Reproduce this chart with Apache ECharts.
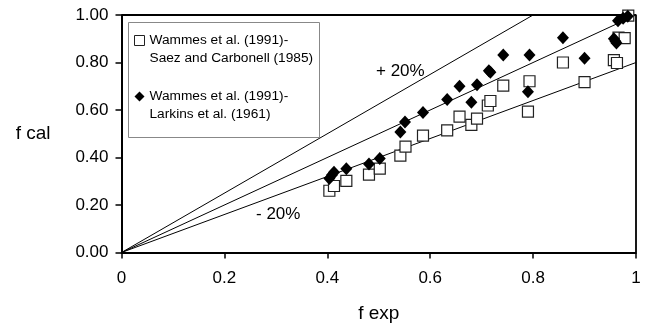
<!DOCTYPE html>
<html>
<head>
<meta charset="utf-8">
<script src="https://cdn.jsdelivr.net/npm/echarts@6/dist/echarts.min.js"></script>
<style>
  html, body { margin: 0; padding: 0; background: #fff; }
  #chart { width: 649px; height: 329px; }
</style>
</head>
<body>
<div id="chart"></div>
<script>
// Saez & Carbonell (1985) correlation vs. Wammes et al. (1991) data
const saezExp = [0.404, 0.413, 0.437, 0.481, 0.502, 0.542, 0.552, 0.586, 0.633, 0.657, 0.680, 0.691, 0.712, 0.717, 0.742, 0.790, 0.793, 0.858, 0.900, 0.957, 0.963, 0.966, 0.978, 0.985];
const saezCal = [0.260, 0.280, 0.302, 0.328, 0.353, 0.408, 0.446, 0.492, 0.514, 0.572, 0.537, 0.564, 0.619, 0.638, 0.703, 0.593, 0.721, 0.800, 0.717, 0.810, 0.798, 0.905, 0.903, 0.997];

// Larkins et al. (1961) correlation vs. Wammes et al. (1991) data
const larkinsExp = [0.404, 0.409, 0.413, 0.437, 0.481, 0.502, 0.542, 0.551, 0.586, 0.633, 0.657, 0.680, 0.691, 0.714, 0.717, 0.742, 0.790, 0.793, 0.858, 0.900, 0.957, 0.960, 0.962, 0.965, 0.975, 0.984];
const larkinsCal = [0.312, 0.326, 0.338, 0.353, 0.373, 0.396, 0.507, 0.549, 0.590, 0.644, 0.700, 0.633, 0.706, 0.765, 0.759, 0.832, 0.677, 0.832, 0.904, 0.818, 0.900, 0.889, 0.882, 0.976, 0.986, 0.995];

// Parity line and +/-20 % bands (slopes of f cal against f exp)
const refSlopes = [1.25, 1.0, 0.8];

const xTicks = [0, 0.2, 0.4, 0.6, 0.8, 1];
const yTicks = [0, 0.2, 0.4, 0.6, 0.8, 1];

const legendNames = ['Wammes et al. (1991)-\nSaez and Carbonell (1985)', 'Wammes et al. (1991)-\nLarkins et al. (1961)'];

const FONT = '"Liberation Sans", Arial, sans-serif';

function pairs(xs, ys) { return xs.map((x, i) => [x, ys[i]]); }

// each reference line runs from the origin to where it leaves the unit box
const refSeries = refSlopes.map(s => ({
  type: 'line',
  data: [[0, 0], s >= 1 ? [1 / s, 1] : [1, s]],
  symbol: 'none',
  silent: true,
  lineStyle: { color: '#000', width: 1 },
  z: 1
}));

// top and right edges of the plot box
const frameSeries = {
  type: 'line',
  data: [[0, 1], [1, 1], [1, 0]],
  symbol: 'none',
  silent: true,
  clip: false,
  lineStyle: { color: '#000', width: 1.8 },
  z: 2
};

const chart = echarts.init(document.getElementById('chart'), null, { renderer: 'canvas' });
chart.setOption({
  animation: false,
  backgroundColor: '#fff',
  textStyle: { fontFamily: FONT },
  grid: { left: 121.5, right: 13, top: 15, bottom: 76.5 },
  xAxis: {
    type: 'value', min: 0, max: 1, interval: 0.2,
    name: 'f exp', nameLocation: 'middle', nameGap: 52,
    nameTextStyle: { fontSize: 19, color: '#000', fontFamily: FONT },
    axisLine: { show: true, onZero: false, lineStyle: { color: '#000', width: 2 } },
    axisTick: { show: true, inside: false, length: 6, lineStyle: { color: '#000', width: 1.5 } },
    axisLabel: {
      margin: 17, fontSize: 17, color: '#000', fontFamily: FONT,
      customValues: xTicks,
      formatter: v => String(Math.round(v * 10) / 10)
    },
    splitLine: { show: false }
  },
  yAxis: {
    type: 'value', min: 0, max: 1, interval: 0.2,
    name: 'f cal', nameLocation: 'middle', nameGap: 71, nameRotate: 0,
    nameTextStyle: { fontSize: 19, color: '#000', fontFamily: FONT },
    axisLine: { show: true, onZero: false, lineStyle: { color: '#000', width: 2 } },
    axisTick: { show: true, inside: false, length: 6, lineStyle: { color: '#000', width: 1.5 } },
    axisLabel: {
      margin: 13, fontSize: 17, color: '#000', fontFamily: FONT,
      customValues: yTicks,
      formatter: v => v.toFixed(2)
    },
    splitLine: { show: false }
  },
  legend: {
    orient: 'vertical',
    left: 134, top: 13.5,
    padding: 0,
    itemGap: 2,
    itemWidth: 10, itemHeight: 10,
    data: [
      { name: legendNames[0], icon: 'rect', itemStyle: { color: '#fff', borderColor: '#222', borderWidth: 1 } },
      { name: legendNames[1], icon: 'diamond' }
    ],
    // a leading blank line keeps the first text line level with the icon
    formatter: name => '\n' + name,
    textStyle: { fontSize: 13.7, lineHeight: 18, color: '#000', fontFamily: FONT }
  },
  graphic: [
    {
      type: 'rect', left: 126, top: 20, silent: true, z: 0,
      shape: { width: 191, height: 115 },
      style: { fill: 'none', stroke: '#888', lineWidth: 1 }
    },
    {
      type: 'text', left: 376, top: 63, silent: true,
      style: { text: '+ 20%', fontSize: 17, fill: '#000', fontFamily: FONT }
    },
    {
      type: 'text', left: 256, top: 206, silent: true,
      style: { text: '- 20%', fontSize: 17, fill: '#000', fontFamily: FONT }
    }
  ],
  series: [
    ...refSeries,
    frameSeries,
    {
      name: legendNames[0],
      type: 'scatter',
      symbol: 'rect',
      symbolSize: 11,
      data: pairs(saezExp, saezCal),
      itemStyle: { color: '#fff', borderColor: '#222', borderWidth: 1.2, opacity: 1 },
      z: 3
    },
    {
      name: legendNames[1],
      type: 'scatter',
      symbol: 'diamond',
      symbolSize: [12, 13],
      data: pairs(larkinsExp, larkinsCal),
      itemStyle: { color: '#000', opacity: 1 },
      z: 4
    }
  ]
});
</script>
</body>
</html>
